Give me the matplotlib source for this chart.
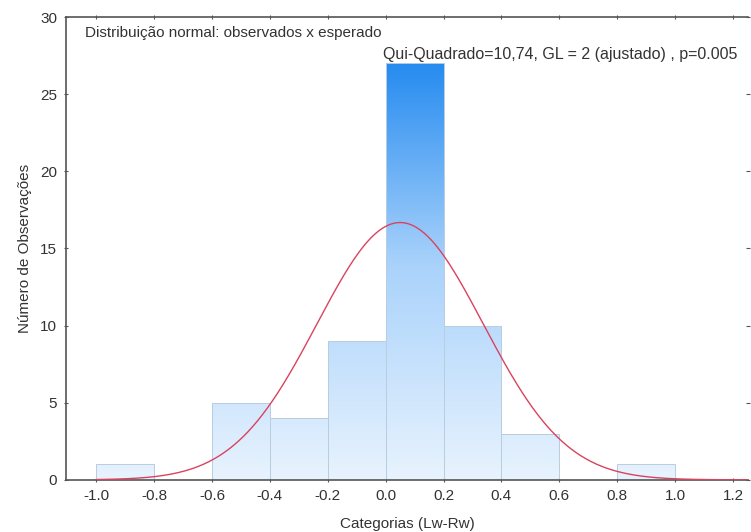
import numpy as np
import matplotlib.pyplot as plt
from matplotlib.colors import LinearSegmentedColormap

plt.rcParams['font.family'] = ['Liberation Sans', 'DejaVu Sans']

# histogram data
bin_edges = [-1.0, -0.8, -0.6, -0.4, -0.2, 0.0, 0.2, 0.4, 0.6, 0.8, 1.0]
counts = [1, 0, 5, 4, 9, 27, 10, 3, 0, 1]

# expected normal curve
mean = 0.05
sd = 0.287
n_obs = sum(counts)

fs = 11

fig = plt.figure(figsize=(7.51, 5.32), dpi=100)
ax = fig.add_axes([0.088, 0.098, 0.908, 0.870])

# gradient fill, clipped to the bars
cmap = LinearSegmentedColormap.from_list('blu', ['#e8f3fe', '#a9d2fb', '#1c86ef'])
grad = np.linspace(0, 1, 256).reshape(-1, 1)
widths = np.diff(bin_edges)
bars = ax.bar(bin_edges[:-1], counts, width=widths, align='edge',
              color='none', edgecolor='#b9cde0', linewidth=0.7, zorder=2)
for b in bars:
    if b.get_height() == 0:
        continue
    im = ax.imshow(grad, aspect='auto', cmap=cmap, origin='lower',
                   extent=[-1.104, 1.252, 0, 28], zorder=1, interpolation='bicubic')
    im.set_clip_path(b)

xs = np.linspace(-1.0, 1.25, 400)
bw = widths[0]
ys = n_obs * bw / (sd * np.sqrt(2 * np.pi)) * np.exp(-0.5 * ((xs - mean) / sd) ** 2)
ax.plot(xs, ys, color='#d9435e', linewidth=1.0, zorder=3)

ax.set_xlim(-1.104, 1.252)
ax.set_ylim(0, 30)

ax.set_xticks(np.arange(-1.0, 1.21, 0.2))
ax.set_xticklabels(['-1.0', '-0.8', '-0.6', '-0.4', '-0.2', '0.0', '0.2', '0.4', '0.6', '0.8', '1.0', '1.2'])
ax.set_yticks([0, 5, 10, 15, 20, 25, 30])

for s in ['left', 'bottom', 'top']:
    ax.spines[s].set_color('#555555')
    ax.spines[s].set_linewidth(1.2)
ax.spines['right'].set_visible(False)
ax.tick_params(axis='both', colors='#555555', labelcolor='#333333', labelsize=fs,
               length=3, direction='inout', top=True, right=True, pad=5)

ax.set_xlabel('Categorias (Lw-Rw)', fontsize=fs, color='#333333', labelpad=10)
ax.set_ylabel('Número de Observações', fontsize=fs, color='#333333', labelpad=6)

ax.text(0.028, 0.98, 'Distribuição normal: observados x esperado',
        transform=ax.transAxes, fontsize=11, color='#333333', va='top')
ax.text(0.465, 0.935, 'Qui-Quadrado=10,74, GL = 2 (ajustado) , p=0.005',
        transform=ax.transAxes, fontsize=11.5, color='#333333', va='top')

fig.savefig('out.png', dpi=100)
